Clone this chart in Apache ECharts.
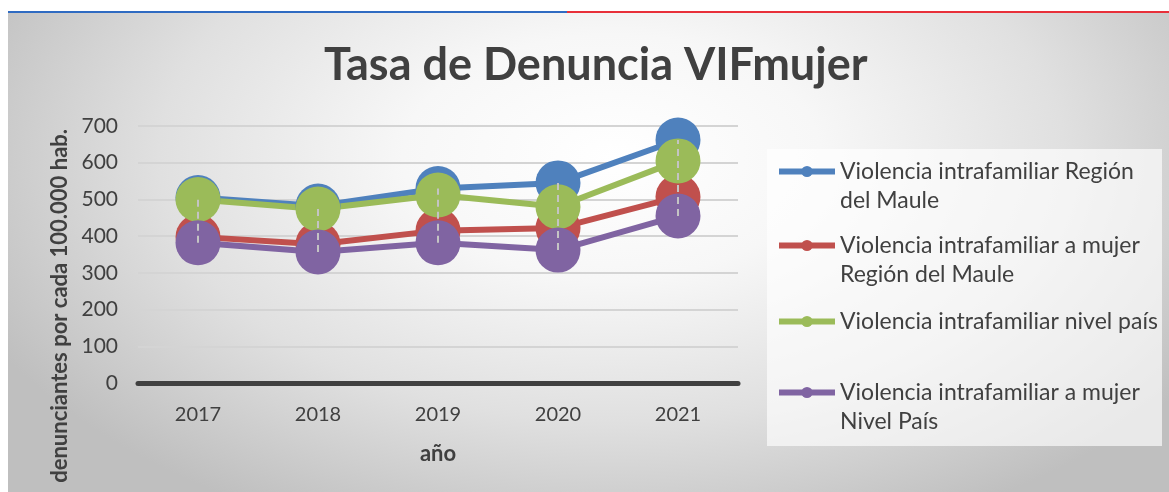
<!DOCTYPE html>
<html>
<head>
<meta charset="utf-8">
<script src="https://cdn.jsdelivr.net/npm/echarts@6/dist/echarts.min.js"></script>
<style>
  html, body { margin: 0; padding: 0; background: #fff; }
  #wrap { position: relative; width: 1169px; height: 492px; overflow: hidden; }
  #panel {
    position: absolute; left: 8px; top: 13px; right: 0; bottom: 0;
    background: radial-gradient(ellipse 60% 85% at 52% 30%, #ffffff 0%, #f7f7f7 30%, #e0e0e0 65%, #bfbfbf 100%);
  }
  #barBlue { position: absolute; left: 8px; top: 11px; width: 559px; height: 2px; background: #2f6bc2; }
  #barRed { position: absolute; left: 567px; top: 11px; right: 0; height: 2px; background: #e8303a; }
  #myChart { position: absolute; left: 0; top: 0; width: 1169px; height: 492px; }
</style>
</head>
<body>
<div id="wrap">
  <div id="panel"></div>
  <div id="barBlue"></div>
  <div id="barRed"></div>
  <div id="myChart"></div>
</div>
<script>
// datos
let years = ['2017', '2018', '2019', '2020', '2021']
let yTicks = [0, 100, 200, 300, 400, 500, 600, 700]
let seriesNames = [
  'Violencia intrafamiliar Región del Maule',
  'Violencia intrafamiliar a mujer Región del Maule',
  'Violencia intrafamiliar nivel país',
  'Violencia intrafamiliar a mujer Nivel País'
]
// texto de leyenda con saltos como en el original
let legendLabels = [
  'Violencia intrafamiliar Región\ndel Maule',
  'Violencia intrafamiliar a mujer\nRegión del Maule',
  'Violencia intrafamiliar nivel país',
  'Violencia intrafamiliar a mujer\nNivel País'
]
let vifMaule = [505, 482, 530, 545, 662]
let vifMujerMaule = [398, 378, 415, 422, 507]
let vifPais = [500, 474, 512, 480, 605]
let vifMujerPais = [382, 357, 382, 362, 455]

let colors = ['#4f81bd', '#c0504d', '#9bbb59', '#8064a2']
let allData = [vifMaule, vifMujerMaule, vifPais, vifMujerPais]
let fontName = 'Lato, "Open Sans", sans-serif'

// lineas alto-bajo
let hiLow = years.map(function (y, i) {
  let vals = allData.map(function (d) { return d[i] })
  return [i, Math.min.apply(null, vals), Math.max.apply(null, vals)]
})

let lineSeries = seriesNames.map(function (name, k) {
  return {
    name: name,
    type: 'line',
    data: allData[k],
    symbol: 'circle',
    symbolSize: 45,
    lineStyle: { width: 6, color: colors[k] },
    itemStyle: { color: colors[k] },
    emphasis: { disabled: true },
    z: 3
  }
})

// una leyenda por serie para poder ubicar cada linea
let legendTops = [128, 202, 307, 349]
let legends = seriesNames.map(function (name, k) {
  let multi = legendLabels[k].indexOf('\n') >= 0
  return {
    data: [name],
    left: 776,
    top: legendTops[k],
    padding: 0,
    itemWidth: 56,
    itemHeight: 14,
    itemGap: 5,
    selectedMode: false,
    lineStyle: { width: 6 },
    formatter: function () {
      return (multi ? '\n' : '') + legendLabels[k]
    },
    textStyle: {
      color: '#404040',
      fontSize: 23,
      fontFamily: fontName,
      lineHeight: 29
    }
  }
})

let option = {
  animation: false,
  color: colors,
  title: {
    text: 'Tasa de Denuncia VIFmujer',
    left: 319,
    top: 38,
    textStyle: { color: '#404040', fontSize: 45, fontWeight: 'bold', fontFamily: fontName }
  },
  legend: legends,
  grid: { left: 138, right: 431, top: 126, bottom: 109 },
  graphic: [
    {
      type: 'rect',
      shape: { x: 767, y: 149, width: 395, height: 297 },
      style: { fill: 'rgba(255,255,255,0.65)' },
      z: -1
    },
    {
      type: 'text',
      x: 60,
      y: 129,
      rotation: Math.PI / 2,
      style: {
        text: 'denunciantes por cada 100.000 hab.',
        align: 'right',
        verticalAlign: 'middle',
        fill: '#404040',
        font: 'bold 22px ' + fontName
      }
    }
  ],
  xAxis: {
    type: 'category',
    data: years,
    boundaryGap: true,
    name: 'año',
    nameLocation: 'middle',
    nameGap: 60,
    nameTextStyle: { color: '#404040', fontSize: 22, fontWeight: 'bold', fontFamily: fontName },
    axisLine: { lineStyle: { color: '#404040', width: 5 } },
    axisTick: { show: false },
    axisLabel: { color: '#404040', fontSize: 20, margin: 22, fontFamily: fontName }
  },
  yAxis: {
    type: 'value',
    min: yTicks[0],
    max: yTicks[yTicks.length - 1],
    interval: 100,
    axisLine: { show: false },
    axisTick: { show: false },
    axisLabel: { color: '#404040', fontSize: 21, margin: 20, fontFamily: fontName },
    splitLine: { lineStyle: { color: '#d4d4d4', width: 2 } }
  },
  series: lineSeries.concat([
    {
      type: 'custom',
      data: hiLow,
      silent: true,
      z: 5,
      renderItem: function (params, api) {
        let lo = api.coord([api.value(0), api.value(1)])
        let hi = api.coord([api.value(0), api.value(2)])
        return {
          type: 'line',
          shape: { x1: lo[0], y1: lo[1], x2: hi[0], y2: hi[1] },
          style: { stroke: '#c4c4c4', lineWidth: 2, lineDash: [7, 5] }
        }
      }
    }
  ])
}

let myChart = echarts.init(document.getElementById('myChart'))
myChart.setOption(option)
</script>
</body>
</html>
